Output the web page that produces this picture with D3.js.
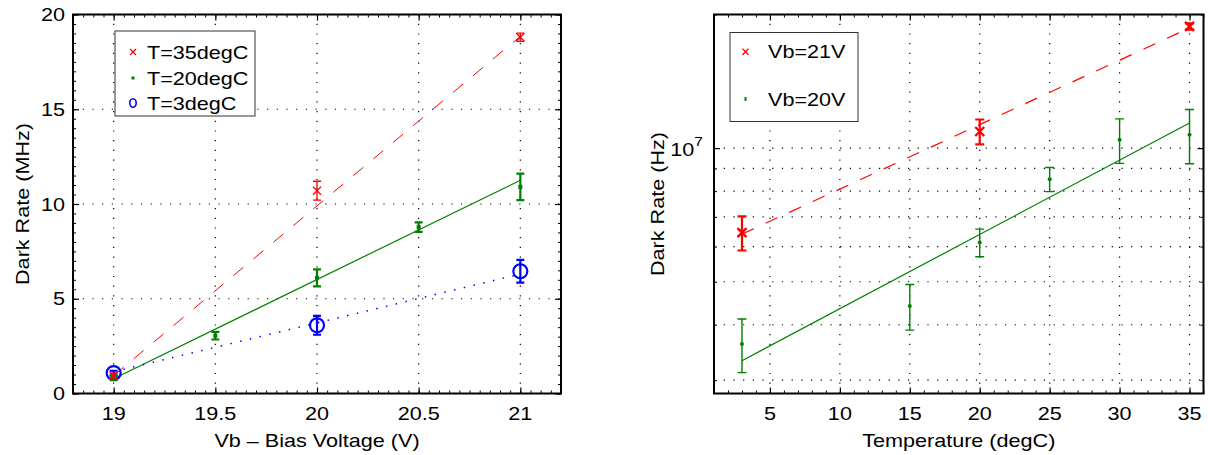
<!DOCTYPE html>
<html>
<head>
<meta charset="utf-8">
<script src="https://cdn.jsdelivr.net/npm/d3@7"></script>
<style>
body { margin: 0; background: #fff; }
text { font-family: "Liberation Sans", Arial, sans-serif; }
</style>
</head>
<body>
<div id="chart"></div>
<script>
// ---- left panel: dark rate vs bias voltage ----
var voltTicks = [19, 19.5, 20, 20.5, 21];
var rateTicksMHz = [0, 5, 10, 15, 20];
var fitVolt = [19, 21];

var t35Volt = [19, 20, 21];
var t35Rate = [0.95, 10.7, 18.8];
var t35Err = [0.12, 0.5, 0.22];
var t35Fit = [0.95, 18.85];

var t20Volt = [19, 19.5, 20, 20.5, 21];
var t20Rate = [0.82, 3.05, 6.1, 8.78, 10.9];
var t20Err = [0.12, 0.2, 0.45, 0.25, 0.7];
var t20Fit = [0.78, 11.25];

var t3Volt = [19, 20, 21];
var t3Rate = [1.08, 3.6, 6.45];
var t3Err = [0.12, 0.5, 0.6];
var t3Fit = [1.15, 6.3];

var leftNames = ["T=35degC", "T=20degC", "T=3degC"];

// ---- right panel: dark rate vs temperature ----
var tempTicks = [5, 10, 15, 20, 25, 30, 35];
var rateGridHz = [3e6, 4e6, 5e6, 6e6, 7e6, 8e6, 9e6, 1e7];
var fitTemp = [3, 35];

var vb21Temp = [3, 20, 35];
var vb21Rate = [6.45e6, 1.09e7, 1.88e7];
var vb21Err = [0.57e6, 0.7e6, 0.3e6];
var vb21Fit = [6.4e6, 1.865e7];

var vb20Temp = [3, 15, 20, 25, 30, 35];
var vb20Rate = [3.62e6, 4.41e6, 6.13e6, 8.51e6, 1.044e7, 1.072e7];
var vb20Err = [0.5e6, 0.52e6, 0.44e6, 0.53e6, 1.2e6, 1.5e6];
var vb20Fit = [3.32e6, 1.139e7];

var rightNames = ["Vb=21V", "Vb=20V"];

var RED = "#ff0000", GREEN = "#008000", BLUE = "#0000ff";
var FS = 18, SX = 1.2;

var svg = d3.select("#chart").append("svg").attr("width", 1208).attr("height", 455);

var L = {left: 73, right: 561, top: 14.5, bottom: 393.5};
var R = {left: 714, right: 1203.5, top: 14.5, bottom: 393.5};

var xL = d3.scaleLinear().domain([18.8, 21.2]).range([L.left, L.right]);
var yL = d3.scaleLinear().domain([0, 20]).range([L.bottom, L.top]);
var xR = d3.scaleLinear().domain([1, 36]).range([R.left, R.right]);
var yR = d3.scaleLog().domain([2.8e6, 2e7]).range([R.bottom, R.top]);

function label(g, str, x, y, anchor, rot) {
  return g.append("text")
    .attr("transform", "translate(" + x + "," + y + ")" + (rot ? " rotate(" + rot + ")" : "") + " scale(" + SX + ",1)")
    .attr("text-anchor", anchor)
    .attr("font-size", FS)
    .attr("fill", "#000")
    .text(str);
}

function grid(g, x, y, b, xs, ys) {
  g.append("g").selectAll("line").data(xs).join("line")
    .attr("x1", d => x(d)).attr("x2", d => x(d))
    .attr("y1", b.bottom).attr("y2", b.top)
    .attr("stroke", "#000").attr("stroke-width", 1.2).attr("stroke-dasharray", "1.2,8.5");
  g.append("g").selectAll("line").data(ys).join("line")
    .attr("y1", d => y(d)).attr("y2", d => y(d))
    .attr("x1", b.left).attr("x2", b.right)
    .attr("stroke", "#000").attr("stroke-width", 1.2).attr("stroke-dasharray", "1.2,8.5");
}

function ticks(g, x, y, b, xMaj, xMin, yMaj, yMin) {
  var sides = [
    [d3.axisBottom(x), "translate(0," + b.bottom + ")", xMaj, xMin],
    [d3.axisTop(x), "translate(0," + b.top + ")", xMaj, xMin],
    [d3.axisLeft(y), "translate(" + b.left + ",0)", yMaj, yMin],
    [d3.axisRight(y), "translate(" + b.right + ",0)", yMaj, yMin]
  ];
  sides.forEach(function(s) {
    var ax = s[0].tickValues(s[3]).tickSize(-3).tickSizeOuter(0).tickFormat("");
    var a = g.append("g").attr("transform", s[1]).call(ax);
    a.select(".domain").remove();
    a.selectAll("line").attr("stroke-width", 1);
    var ax2 = s[0].tickValues(s[2]).tickSize(-6).tickSizeOuter(0).tickFormat("");
    var a2 = g.append("g").attr("transform", s[1]).call(ax2);
    a2.select(".domain").remove();
    a2.selectAll("line").attr("stroke-width", 1.2);
  });
  g.append("rect").attr("x", b.left).attr("y", b.top)
    .attr("width", b.right - b.left).attr("height", b.bottom - b.top)
    .attr("fill", "none").attr("stroke", "#000").attr("stroke-width", 2);
}

function fitLine(g, x, y, xs, vs, color, width, dash) {
  g.append("path")
    .datum(xs.map((d, i) => [d, vs[i]]))
    .attr("d", d3.line().x(d => x(d[0])).y(d => y(d[1])))
    .attr("fill", "none").attr("stroke", color).attr("stroke-width", width)
    .attr("stroke-dasharray", dash);
}

function errBars(g, x, y, xs, vs, es, color, width, cap) {
  var rows = xs.map((d, i) => ({x: d, v: vs[i], e: es[i]}));
  var gg = g.append("g").attr("stroke", color).attr("stroke-width", width).attr("fill", "none");
  gg.selectAll(".eb").data(rows).join("path")
    .attr("d", d => {
      var px = x(d.x), lo = y(d.v - d.e), hi = y(d.v + d.e);
      return "M" + px + "," + lo + "V" + hi +
        "M" + (px - cap) + "," + lo + "H" + (px + cap) +
        "M" + (px - cap) + "," + hi + "H" + (px + cap);
    });
  return rows;
}

function crossPath(s) {
  return "M" + (-s) + "," + (-s) + "L" + s + "," + s + "M" + (-s) + "," + s + "L" + s + "," + (-s);
}

// ================= left panel =================
var gl = svg.append("g");
grid(gl, xL, yL, L, voltTicks, rateTicksMHz);

fitLine(gl, xL, yL, fitVolt, t35Fit, RED, 1, "13,13");
fitLine(gl, xL, yL, fitVolt, t20Fit, GREEN, 1.2, null);
fitLine(gl, xL, yL, fitVolt, t3Fit, BLUE, 1.5, "1.5,8.5");

var rowsB = errBars(gl, xL, yL, t3Volt, t3Rate, t3Err, BLUE, 2.2, 4);
gl.append("g").selectAll("circle").data(rowsB).join("circle")
  .attr("cx", d => xL(d.x)).attr("cy", d => yL(d.v)).attr("r", 7)
  .attr("fill", "none").attr("stroke", BLUE).attr("stroke-width", 2.2);

var rowsG = errBars(gl, xL, yL, t20Volt, t20Rate, t20Err, GREEN, 2.2, 4);
gl.append("g").selectAll("rect").data(rowsG).join("rect")
  .attr("x", d => xL(d.x) - 2).attr("y", d => yL(d.v) - 2).attr("width", 4).attr("height", 4)
  .attr("fill", GREEN);

var rowsR = errBars(gl, xL, yL, t35Volt, t35Rate, t35Err, RED, 1.3, 4);
gl.append("g").selectAll("path.mk").data(rowsR).join("path")
  .attr("transform", d => "translate(" + xL(d.x) + "," + yL(d.v) + ")")
  .attr("d", crossPath(4)).attr("stroke", RED).attr("stroke-width", 1.3).attr("fill", "none");

ticks(gl, xL, yL, L, voltTicks, d3.range(18.8, 21.2001, 0.05), rateTicksMHz, d3.range(0, 20.001, 0.5));

voltTicks.forEach(v => label(gl, String(v), xL(v), 420, "middle"));
rateTicksMHz.forEach(v => label(gl, String(v), L.left - 8, yL(v) + 6.5, "end"));
label(gl, "Vb \u2013 Bias Voltage (V)", (L.left + L.right) / 2, 447, "middle");
label(gl, "Dark Rate (MHz)", 29, (L.top + L.bottom) / 2, "middle", -90);

// legend
var lgL = gl.append("g");
lgL.append("rect").attr("x", 115).attr("y", 31).attr("width", 140).attr("height", 85)
  .attr("fill", "#fff").attr("stroke", "#333").attr("stroke-width", 1);
var legRows = [52, 78, 103];
lgL.append("path").attr("transform", "translate(133," + legRows[0] + ")")
  .attr("d", crossPath(3)).attr("stroke", RED).attr("stroke-width", 1.3);
lgL.append("rect").attr("x", 131.5).attr("y", legRows[1] - 1.5).attr("width", 3).attr("height", 3).attr("fill", GREEN);
lgL.append("ellipse").attr("cx", 133).attr("cy", legRows[2]).attr("rx", 3.2).attr("ry", 4.2)
  .attr("fill", "none").attr("stroke", BLUE).attr("stroke-width", 1.6);
leftNames.forEach((n, i) => label(lgL, n, 147, legRows[i] + 6.5, "start"));

// ================= right panel =================
var gr = svg.append("g");
grid(gr, xR, yR, R, tempTicks, rateGridHz);

fitLine(gr, xR, yR, fitTemp, vb21Fit, RED, 1.2, "13,13");
fitLine(gr, xR, yR, fitTemp, vb20Fit, GREEN, 1.2, null);

var rowsG2 = errBars(gr, xR, yR, vb20Temp, vb20Rate, vb20Err, GREEN, 1.4, 4.5);
gr.append("g").selectAll("circle").data(rowsG2).join("circle")
  .attr("cx", d => xR(d.x)).attr("cy", d => yR(d.v)).attr("r", 2).attr("fill", GREEN);

var rowsR2 = errBars(gr, xR, yR, vb21Temp, vb21Rate, vb21Err, RED, 2.2, 4.5);
gr.append("g").selectAll("path.mk").data(rowsR2).join("path")
  .attr("transform", d => "translate(" + xR(d.x) + "," + yR(d.v) + ")")
  .attr("d", crossPath(4.5)).attr("stroke", RED).attr("stroke-width", 2.4).attr("fill", "none");

ticks(gr, xR, yR, R, tempTicks, d3.range(1, 36.001, 1), [1e7], rateGridHz.slice(0, 7).concat([2e7]));

tempTicks.forEach(v => label(gr, String(v), xR(v), 420, "middle"));
var yl = label(gr, "", R.left - 11, yR(1e7) + 8, "end");
yl.append("tspan").text("10");
yl.append("tspan").attr("dy", -10).attr("font-size", 13).text("7");
label(gr, "Temperature (degC)", (R.left + R.right) / 2, 447, "middle");
label(gr, "Dark Rate (Hz)", 664, (R.top + R.bottom) / 2, "middle", -90);

var lgR = gr.append("g");
lgR.append("rect").attr("x", 730).attr("y", 32.5).attr("width", 128).attr("height", 89)
  .attr("fill", "#fff").attr("stroke", "#333").attr("stroke-width", 1);
var legRowsR = [51.7, 99];
lgR.append("path").attr("transform", "translate(745.5," + legRowsR[0] + ")")
  .attr("d", crossPath(3)).attr("stroke", RED).attr("stroke-width", 1.3);
lgR.append("rect").attr("x", 744.5).attr("y", legRowsR[1] - 2).attr("width", 2).attr("height", 4).attr("fill", GREEN);
rightNames.forEach((n, i) => label(lgR, n, 768, legRowsR[i] + 6.5, "start"));
</script>
</body>
</html>
